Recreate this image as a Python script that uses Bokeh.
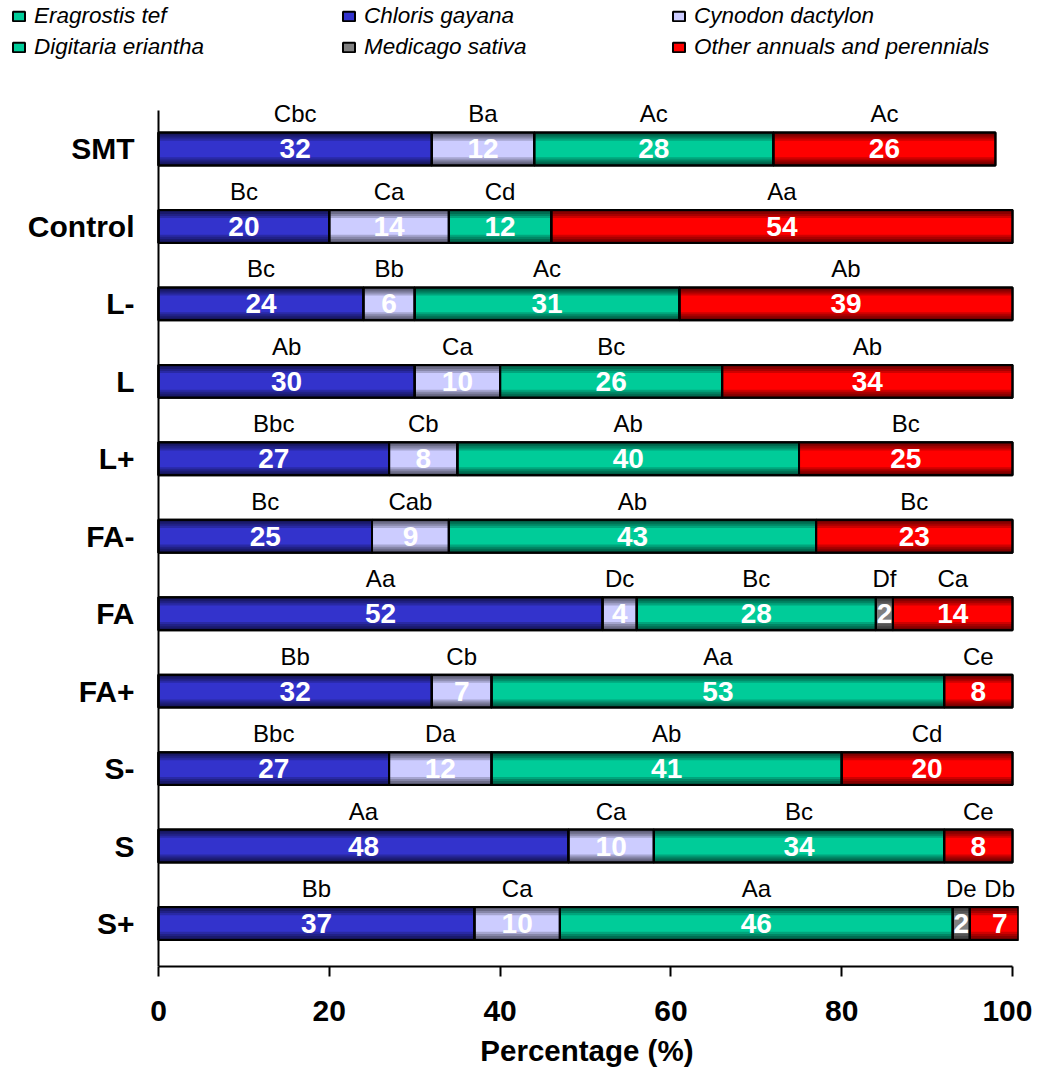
from bokeh.plotting import figure
from bokeh.models import Range1d, FixedTicker, Legend, LegendItem, ColumnDataSource, Title
from bokeh.embed import file_html
from bokeh.resources import INLINE
from bokeh.core.properties import value

# ---------------- data ----------------
treatments = ["SMT", "Control", "L-", "L", "L+", "FA-", "FA", "FA+", "S-", "S", "S+"]
eragrostis = [0, 0, 0, 0, 0, 0, 0, 0, 0, 0, 0]
chloris = [32, 20, 24, 30, 27, 25, 52, 32, 27, 48, 37]
cynodon = [12, 14, 6, 10, 8, 9, 4, 7, 12, 10, 10]
digitaria = [28, 12, 31, 26, 40, 43, 28, 53, 41, 34, 46]
medicago = [0, 0, 0, 0, 0, 0, 2, 0, 0, 0, 2]
others = [26, 54, 39, 34, 25, 23, 14, 8, 20, 8, 7]

letters_eragrostis = ["", "", "", "", "", "", "", "", "", "", ""]
letters_chloris = ["Cbc", "Bc", "Bc", "Ab", "Bbc", "Bc", "Aa", "Bb", "Bbc", "Aa", "Bb"]
letters_cynodon = ["Ba", "Ca", "Bb", "Ca", "Cb", "Cab", "Dc", "Cb", "Da", "Ca", "Ca"]
letters_digitaria = ["Ac", "Cd", "Ac", "Bc", "Ab", "Ab", "Bc", "Aa", "Ab", "Bc", "Aa"]
letters_medicago = ["", "", "", "", "", "", "Df", "", "", "", "De"]
letters_others = ["Ac", "Aa", "Ab", "Ab", "Bc", "Bc", "Ca", "Ce", "Cd", "Ce", "Db"]

x_ticks = [0, 20, 40, 60, 80, 100]
x_label = "Percentage (%)"

series_names = ["Eragrostis tef", "Chloris gayana", "Cynodon dactylon",
                "Digitaria eriantha", "Medicago sativa", "Other annuals and perennials"]
series_values = [eragrostis, chloris, cynodon, digitaria, medicago, others]
series_letters = [letters_eragrostis, letters_chloris, letters_cynodon,
                  letters_digitaria, letters_medicago, letters_others]
series_colors = ["#00CC99", "#3333CC", "#CCCCFF", "#00CC99", "#808080", "#FF0000"]

FONT = value("Liberation Sans")
n = len(treatments)
ypos = [n - 1 - i for i in range(n)]
BAR_H = 0.425

# ---------------- geometry of the frame ----------------
FRAME_W, FRAME_H = 1018, 966      # frame spans from the canvas' top-left corner
AXIS_PX = 158                     # pixel where x = 0 (the y axis) sits
X_END = 100.7
x_start = -AXIS_PX * X_END / (FRAME_W - AXIS_PX)
Y_LO, Y_HI = -0.555, 10.497       # extent of the y axis line
unit_px = 856 / (Y_HI - Y_LO)
y_top = Y_LO + FRAME_H / unit_px

p = figure(frame_width=FRAME_W, frame_height=FRAME_H,
           min_border_left=0, min_border_top=0, min_border_right=14, min_border_bottom=0,
           x_range=Range1d(x_start, X_END), y_range=Range1d(Y_LO, y_top),
           output_backend="svg", toolbar_location=None)
p.outline_line_color = None
p.xgrid.visible = False
p.ygrid.visible = False

# stacked segments
left_acc = [0.0] * n
legend_items = []
outline_sources = []
for name, vals, lets, col in zip(series_names, series_values, series_letters, series_colors):
    rows = [i for i in range(n) if vals[i] > 0]
    if not rows:
        rows = list(range(n))
    src = ColumnDataSource(dict(
        y=[ypos[i] for i in rows],
        left=[left_acc[i] for i in rows],
        right=[left_acc[i] + vals[i] for i in rows],
        xc=[left_acc[i] + vals[i] / 2 for i in rows],
        num=[str(vals[i]) if vals[i] > 0 else "" for i in rows],
        let=[lets[i] for i in rows],
    ))
    r = p.hbar(y="y", left="left", right="right", height=BAR_H, source=src,
               fill_color=col, line_color="black", line_width=2)
    legend_items.append(LegendItem(label=name, renderers=[r]))
    if any(v > 0 for v in vals):
        outline_sources.append(src)
    for i in rows:
        left_acc[i] += vals[i]

# shading bands (gradient look)
totals = left_acc
for hb in [0.105, 0.078, 0.052, 0.026]:
    for sgn in (1, -1):
        off = sgn * (BAR_H / 2 - hb / 2)
        bs = ColumnDataSource(dict(y=[v + off for v in ypos], right=totals))
        p.hbar(y="y", left=0, right="right", height=hb, source=bs,
               fill_color="black", fill_alpha=0.19, line_color=None)

# outlines + texts
for src in outline_sources:
    p.hbar(y="y", left="left", right="right", height=BAR_H, source=src,
           fill_alpha=0, line_color="black", line_width=2)
    p.text(x="xc", y="y", text="num", source=src, text_color="white",
           text_font=FONT, text_font_style="bold", text_font_size="28px",
           text_align="center", text_baseline="middle")
    p.text(x="xc", y="y", text="let", source=src, text_color="black",
           text_font=FONT, text_font_size="24px", y_offset=-35,
           text_align="center", text_baseline="middle")

# axes
p.xaxis.ticker = FixedTicker(ticks=x_ticks)
p.xaxis.bounds = (0, 100)
p.xaxis.axis_line_width = 2
p.xaxis.major_tick_line_width = 2
p.xaxis.major_tick_out = 10
p.xaxis.major_tick_in = 0
p.xaxis.minor_tick_line_color = None
p.xaxis.major_label_standoff = 24
p.xaxis.major_label_text_font = "Liberation Sans"
p.xaxis.major_label_text_font_style = "bold"
p.xaxis.major_label_text_font_size = "30px"
p.xaxis.major_label_text_color = "black"

# x axis title, centred under the 0-100 span of the axis
xt = Title(text=x_label, align="right", offset=FRAME_W - AXIS_PX - 535, standoff=16,
           text_font="Liberation Sans", text_font_style="bold", text_font_size="29.5px",
           text_color="black")
p.add_layout(xt, "below")

p.yaxis.fixed_location = 0
p.yaxis.ticker = FixedTicker(ticks=ypos)
p.yaxis.bounds = (Y_LO, Y_HI)
p.yaxis.major_label_overrides = {ypos[i]: treatments[i] for i in range(n)}
p.yaxis.axis_line_width = 2
p.yaxis.major_tick_line_color = None
p.yaxis.major_tick_out = 0
p.yaxis.major_tick_in = 0
p.yaxis.minor_tick_line_color = None
p.yaxis.major_label_standoff = 24
p.yaxis.major_label_text_font = "Liberation Sans"
p.yaxis.major_label_text_font_style = "bold"
p.yaxis.major_label_text_font_size = "30px"
p.yaxis.major_label_text_color = "black"

# legend (3 columns, 2 rows) across the top
legend = Legend(items=legend_items, location=(11, 905), orientation="horizontal", ncols=3)
legend.padding = 0
legend.margin = 0
legend.spacing = 3
legend.glyph_width = 15
legend.glyph_height = 12
legend.label_standoff = 8
legend.label_width = 304
legend.label_height = 28
legend.label_text_font = "Liberation Sans"
legend.label_text_font_style = "italic"
legend.label_text_font_size = "22.5px"
legend.label_text_color = "black"
legend.border_line_color = None
legend.background_fill_alpha = 0
p.add_layout(legend, "center")

open("out.html", "w").write(file_html(p, INLINE))
